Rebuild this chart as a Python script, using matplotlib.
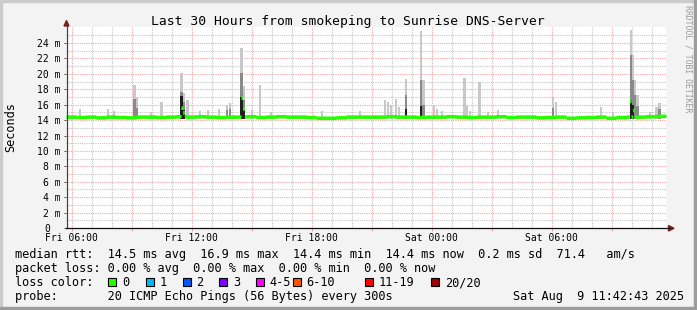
import numpy as np
import matplotlib
matplotlib.use('Agg')
import matplotlib.pyplot as plt
from matplotlib.patches import Rectangle, Polygon
from matplotlib.transforms import ScaledTranslation

plt.rcParams['font.family'] = ['DejaVu Sans Mono']

W, H = 697, 310

# time axis in hours since Fri 00:00, 30 hours ending Sat 11:42:43
t_start = 5 + 42.72 / 60
t_end = t_start + 30
step = 5 / 60

xtick_hours = [6, 12, 18, 24, 30]
xtick_labels = ['Fri 06:00', 'Fri 12:00', 'Fri 18:00', 'Sat 00:00', 'Sat 06:00']

ytick_values = list(range(0, 25, 2))
ytick_labels = ['0'] + ['%d m' % v for v in range(2, 25, 2)]

# median rtt (ms), one value per half hour
median_half_hour = [
    14.45, 14.40, 14.45, 14.35, 14.45, 14.40, 14.35, 14.45, 14.45, 14.40,
    14.45, 14.50, 14.45, 14.50, 14.45, 14.40, 14.45, 14.45, 14.50, 14.40,
    14.45, 14.50, 14.45, 14.45, 14.40, 14.30, 14.30, 14.35, 14.45, 14.45,
    14.45, 14.45, 14.50, 14.45, 14.45, 14.40, 14.45, 14.45, 14.50, 14.45,
    14.40, 14.45, 14.45, 14.50, 14.40, 14.45, 14.45, 14.35, 14.40, 14.45,
    14.30, 14.35, 14.40, 14.45, 14.30, 14.40, 14.45, 14.45, 14.50, 14.55,
]

# median jumps during the spikes
bump_hour = [11.49, 11.59, 14.49, 14.59, 33.96, 34.06]
bump_med = [15.6, 15.0, 16.9, 15.5, 16.5, 15.3]

# smoke: light top, mid-grey top, dark top (0 = none), ms
spike_hour = [6.41, 7.81, 8.11, 9.14, 9.24, 9.96, 10.49, 11.49, 11.59, 11.78,
              12.41, 12.81, 13.36, 13.76, 13.91, 14.49, 14.59, 15.01, 15.41, 15.96,
              18.51, 20.41, 21.66, 21.81, 21.96, 22.21, 22.36, 22.71, 23.46, 23.59,
              24.11, 24.26, 24.51, 25.64, 25.74, 25.91, 26.39, 26.81, 27.31, 30.06,
              30.21, 32.46, 33.06, 33.96, 34.06, 34.16, 34.29, 34.91, 35.24, 35.39]
spike_top = [15.4, 15.5, 15.2, 18.6, 17.0, 15.1, 16.4, 20.1, 17.5, 16.6,
             15.2, 15.3, 15.5, 15.9, 16.2, 23.3, 18.4, 15.3, 18.5, 15.0,
             15.2, 15.2, 16.6, 16.3, 16.0, 16.7, 15.7, 19.3, 25.5, 19.2,
             16.0, 15.5, 15.2, 19.5, 16.0, 15.2, 19.0, 15.1, 15.3, 17.0,
             16.3, 15.7, 15.1, 25.7, 22.4, 19.2, 17.2, 15.1, 15.7, 16.2]
spike_mid = [0, 0, 0, 16.8, 15.6, 0, 0, 17.6, 16.3, 0,
             0, 0, 0, 15.3, 15.5, 20.1, 16.6, 0, 0, 0,
             0, 0, 0, 0, 0, 0, 0, 17.2, 19.2, 16.0,
             0, 0, 0, 0, 0, 0, 0, 0, 0, 15.6,
             0, 0, 0, 22.4, 19.2, 17.2, 15.8, 0, 0, 15.5]
spike_dark = [0, 0, 0, 0, 0, 0, 0, 17.1, 15.3, 0,
              0, 0, 0, 0, 0, 17.0, 15.3, 0, 0, 0,
              0, 0, 0, 0, 0, 0, 0, 15.5, 15.8, 0,
              0, 0, 0, 0, 0, 0, 0, 0, 0, 0,
              0, 0, 0, 16.6, 16.0, 0, 0, 0, 0, 0]

loss_labels = ['0', '1', '2', '3', '4-5', '6-10', '11-19', '20/20']
loss_colors = ['#26ff00', '#00b8ff', '#0059ff', '#7e00ff', '#ff00ff',
               '#ff5500', '#ff0000', '#a00000']

legend_rows = [
    'median rtt:  14.5 ms avg  16.9 ms max  14.4 ms min  14.4 ms now  0.2 ms sd  71.4   am/s',
    'packet loss: 0.00 % avg  0.00 % max  0.00 % min  0.00 % now',
    'loss color:',
    'probe:       20 ICMP Echo Pings (56 Bytes) every 300s',
]
stamp = 'Sat Aug  9 11:42:43 2025'


def fx(x):
    return x / W


def fy(y):
    return 1 - y / H


fig = plt.figure(figsize=(W / 100, H / 100), dpi=100, facecolor='#f3f3f3')

L, R, T, B = 66, 666, 27, 228
ax = fig.add_axes([fx(L), fy(B), (R - L) / W, (B - T) / H])
ax.set_facecolor('white')
ax.set_xlim(t_start, t_end)
ax.set_ylim(0, (B - T) / ((B - 43) / 24))

# grid
ax.set_xticks(np.arange(6, 36, 3))
ax.set_xticklabels([xtick_labels[xtick_hours.index(h)] if h in xtick_hours else ''
                    for h in range(6, 36, 3)])
ax.set_xticks(np.arange(6, 36, 1), minor=True)
ax.set_yticks(ytick_values, ytick_labels)
ax.set_yticks(np.arange(1, 26, 1), minor=True)
ax.grid(which='major', color='#f3a8a8', linestyle=(0, (1, 1)), linewidth=0.8, snap=True)
ax.grid(which='minor', color='#c6c6c6', linestyle=(0, (1, 1)), linewidth=0.8, snap=True)
ax.set_axisbelow(True)
for s in ax.spines.values():
    s.set_visible(False)

ax.tick_params(axis='x', which='major', length=2.2, width=0.72, color='#ee9a9a',
               pad=1.2, labelsize=7.05)
ax.tick_params(axis='x', which='minor', length=0)
ax.tick_params(axis='y', which='major', length=1.5, width=0.72, color='#505050',
               pad=2.2, labelsize=7.05)
ax.tick_params(axis='y', which='minor', length=0)
zero_lab = ax.yaxis.get_major_ticks()[0].label1
zero_lab.set_transform(zero_lab.get_transform() + ScaledTranslation(-0.11, 0, fig.dpi_scale_trans))

# smoke
base = 14.2
top = np.array(spike_top)
mid = np.array(spike_mid)
dark = np.array(spike_dark)
hrs = np.array(spike_hour)
bw = 1.5 * step
ax.bar(hrs, top - base, bottom=base, width=bw, color='#c8c8c8', linewidth=0, zorder=2)
m = mid > 0
ax.bar(hrs[m], mid[m] - base, bottom=base, width=bw, color='#8a8a8a', linewidth=0, zorder=3)
d = dark > 0
ax.bar(hrs[d], dark[d] - base, bottom=base, width=bw, color='#1e1e1e', linewidth=0, zorder=4)

# median line, drawn as short 3 px dashes per step
med = np.repeat(np.array(median_half_hour), 6).astype(float)
for h, v in zip(bump_hour, bump_med):
    med[int((h - t_start) / step)] = v
edges = t_start + np.arange(len(med) + 1) * step
medx = np.append(med, med[-1])
half = 1.8 / ((B - 43) / 24)
ax.fill_between(edges, medx - half, medx + half, step='post', color='#26ff00',
                linewidth=0, zorder=5)

# axes lines and arrows
fig.add_artist(plt.Line2D([fx(66.5), fx(66.5)], [fy(228), fy(23)], color='#404040', lw=0.9))
fig.add_artist(plt.Line2D([fx(66), fx(670)], [fy(228.3), fy(228.3)], color='#101010', lw=0.9))
fig.add_artist(Polygon([[fx(64), fy(26)], [fx(69), fy(26)], [fx(66.5), fy(20.5)]],
                       closed=True, color='#7f1f1f', transform=fig.transFigure))
fig.add_artist(Polygon([[fx(668.5), fy(225.5)], [fx(668.5), fy(231)], [fx(674), fy(228.3)]],
                       closed=True, color='#7f1f1f', transform=fig.transFigure))

# frame shading
fig.add_artist(Rectangle((0, fy(2)), 1, 2 / H, color='#cbcbcb', transform=fig.transFigure))
fig.add_artist(Rectangle((0, 0), 2 / W, 1, color='#cbcbcb', transform=fig.transFigure))
fig.add_artist(Rectangle((0, 0), 1, 3 / H, color='#9c9c9c', transform=fig.transFigure))
fig.add_artist(Rectangle((fx(694), 0), 3 / W, 1, color='#9c9c9c', transform=fig.transFigure))

# texts
fig.text(fx(348), fy(24.5), 'Last 30 Hours from smokeping to Sunrise DNS-Server',
         ha='center', va='baseline', fontsize=9.35)
fig.text(fx(10.5), fy(127), 'Seconds', rotation=90, ha='center', va='center', fontsize=8.55)
fig.text(fx(688), fy(59), 'RRDTOOL / TOBI OETIKER', rotation=270, ha='center', va='center',
         fontsize=5.9, color='#9a9a9a')

for i, row in enumerate(legend_rows):
    fig.text(fx(15), fy(258 + 14 * i), row, ha='left', va='baseline', fontsize=8.55)
fig.text(fx(684), fy(300), stamp, ha='right', va='baseline', fontsize=8.55)

box_x = [108, 145.5, 182.5, 219, 255.5, 292.5, 365, 431]
for bx, lab, col in zip(box_x, loss_labels, loss_colors):
    fig.add_artist(Rectangle((fx(bx), fy(286)), 8 / W, 8 / H, facecolor=col,
                             edgecolor='black', linewidth=0.8, transform=fig.transFigure))
    fig.text(fx(bx + 14), fy(286), lab, ha='left', va='baseline', fontsize=8.55)

fig.savefig('out.png', dpi=100, facecolor=fig.get_facecolor())
